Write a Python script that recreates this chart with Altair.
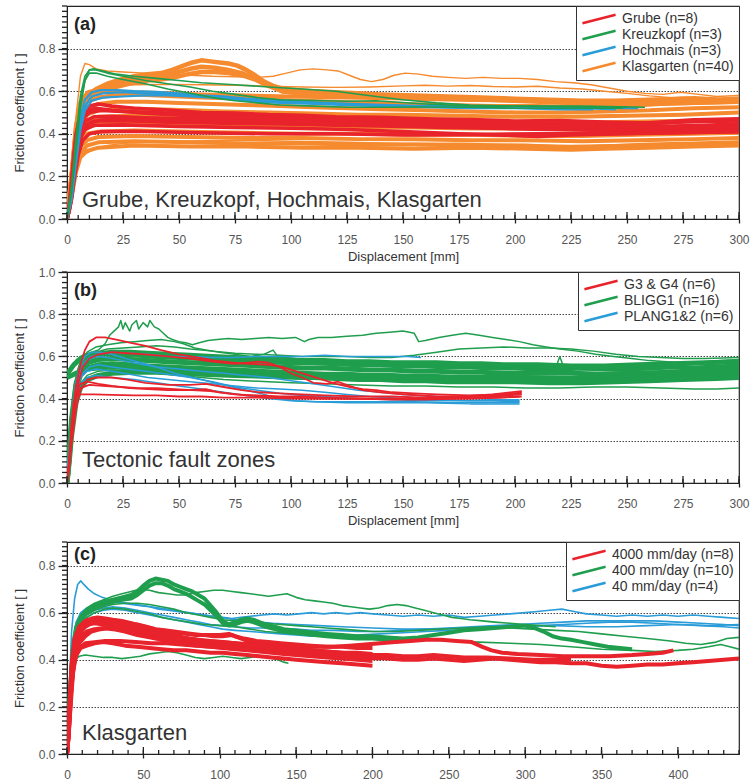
import altair as alt
import pandas as pd

# ---------------------------------------------------------------------------
# (a) Grube / Kreuzkopf / Hochmais / Klasgarten  -- displacement [mm], friction [-]
# ---------------------------------------------------------------------------
A_GRUBE = [
    [(0, 0), (1, 0.06), (2, 0.16), (3, 0.28), (4, 0.38), (5, 0.45), (7, 0.50), (10, 0.53), (14, 0.54), (20, 0.53),
     (30, 0.52), (45, 0.512), (60, 0.50), (75, 0.497), (90, 0.49), (105, 0.487), (120, 0.48), (140, 0.477),
     (160, 0.47), (180, 0.467), (200, 0.46), (220, 0.462), (240, 0.455), (260, 0.45), (280, 0.457), (300, 0.46)],
    [(0, 0), (1, 0.05), (2, 0.13), (3, 0.24), (4, 0.34), (5, 0.41), (7, 0.47), (10, 0.50), (15, 0.51), (25, 0.505),
     (40, 0.50), (60, 0.49), (80, 0.482), (100, 0.475), (125, 0.47), (150, 0.466), (175, 0.455), (200, 0.452),
     (225, 0.445), (250, 0.44), (270, 0.436), (285, 0.44), (300, 0.447)],
    [(0, 0), (1, 0.04), (2, 0.11), (3, 0.21), (4, 0.31), (6, 0.41), (8, 0.46), (12, 0.48), (20, 0.482), (35, 0.475),
     (55, 0.47), (75, 0.466), (100, 0.46), (125, 0.456), (150, 0.45), (175, 0.442), (200, 0.436), (225, 0.43),
     (250, 0.426), (275, 0.42), (300, 0.425)],
    [(0, 0), (1, 0.05), (2, 0.12), (3, 0.22), (4, 0.32), (6, 0.40), (8, 0.44), (12, 0.46), (25, 0.462), (45, 0.455),
     (70, 0.45), (95, 0.446), (120, 0.44), (145, 0.436), (170, 0.43), (195, 0.425), (215, 0.42), (240, 0.416),
     (260, 0.41), (280, 0.415), (300, 0.42)],
    [(0, 0), (1, 0.04), (2, 0.10), (4, 0.28), (6, 0.38), (8, 0.42), (12, 0.44), (25, 0.442), (50, 0.435), (75, 0.43),
     (100, 0.426), (125, 0.42), (150, 0.41), (175, 0.40), (195, 0.394), (210, 0.388), (225, 0.395), (250, 0.40),
     (275, 0.405), (300, 0.41)],
    [(0, 0), (1, 0.07), (2, 0.18), (3, 0.30), (4, 0.40), (6, 0.47), (9, 0.51), (13, 0.52), (20, 0.51), (35, 0.497),
     (55, 0.485), (80, 0.476), (110, 0.47), (140, 0.465), (170, 0.46), (200, 0.456), (230, 0.45), (250, 0.445),
     (265, 0.455), (280, 0.466), (300, 0.47)],
    [(0, 0), (1, 0.05), (2, 0.12), (3, 0.22), (5, 0.36), (7, 0.42), (10, 0.45), (15, 0.465), (30, 0.47), (60, 0.466),
     (90, 0.455), (120, 0.45), (150, 0.446), (180, 0.44), (210, 0.44), (240, 0.435), (270, 0.43), (300, 0.436)],
    [(0, 0), (1, 0.04), (2, 0.09), (3, 0.17), (5, 0.30), (7, 0.37), (10, 0.40), (15, 0.41), (30, 0.412), (60, 0.405),
     (90, 0.40), (120, 0.40), (150, 0.395), (180, 0.396), (210, 0.40), (240, 0.40), (270, 0.405), (300, 0.41)],
]

A_KREUZKOPF = [
    [(0, 0), (2, 0.12), (4, 0.32), (6, 0.52), (8, 0.65), (10, 0.70), (12, 0.705), (16, 0.695), (22, 0.68), (30, 0.67),
     (40, 0.66), (50, 0.65), (60, 0.64), (75, 0.63), (90, 0.62), (105, 0.61), (120, 0.60), (138, 0.575), (150, 0.56),
     (165, 0.545), (180, 0.535), (200, 0.53), (230, 0.53), (258, 0.525)],
    [(0, 0), (2, 0.15), (4, 0.38), (6, 0.58), (8, 0.67), (10, 0.70), (13, 0.70), (18, 0.685), (25, 0.67), (35, 0.65),
     (45, 0.635), (55, 0.62), (65, 0.60), (75, 0.585), (85, 0.57), (95, 0.56), (110, 0.556), (125, 0.553),
     (138, 0.555), (160, 0.54), (180, 0.53), (200, 0.53), (225, 0.527), (250, 0.525)],
    [(0, 0), (2, 0.14), (4, 0.35), (6, 0.55), (8, 0.65), (10, 0.685), (13, 0.685), (18, 0.67), (25, 0.655), (35, 0.635),
     (45, 0.61), (55, 0.59), (65, 0.57), (75, 0.555), (85, 0.545), (95, 0.535), (110, 0.53), (125, 0.525),
     (140, 0.525), (160, 0.526), (180, 0.525), (200, 0.52), (225, 0.52), (248, 0.52)],
]

A_HOCHMAIS = [
    [(0, 0), (2, 0.12), (4, 0.32), (6, 0.48), (8, 0.56), (11, 0.595), (15, 0.605), (22, 0.605), (30, 0.60), (40, 0.597),
     (50, 0.59), (60, 0.58), (70, 0.576), (80, 0.565), (90, 0.56), (100, 0.555), (115, 0.545), (130, 0.54),
     (145, 0.535), (160, 0.53), (180, 0.53), (200, 0.525), (220, 0.525), (240, 0.52), (255, 0.52)],
    [(0, 0), (2, 0.10), (4, 0.28), (6, 0.44), (8, 0.53), (11, 0.575), (16, 0.59), (25, 0.595), (35, 0.59), (45, 0.586),
     (55, 0.58), (65, 0.575), (75, 0.566), (85, 0.555), (95, 0.55), (105, 0.546), (120, 0.54), (135, 0.535),
     (150, 0.53), (170, 0.525), (190, 0.526), (210, 0.52), (230, 0.52), (245, 0.515)],
    [(0, 0), (2, 0.09), (4, 0.26), (6, 0.42), (8, 0.51), (11, 0.555), (16, 0.57), (25, 0.575), (35, 0.58), (45, 0.58),
     (55, 0.575), (65, 0.57), (75, 0.56), (85, 0.55), (95, 0.545), (110, 0.54), (125, 0.535), (140, 0.53),
     (160, 0.525), (180, 0.52), (200, 0.52), (220, 0.515), (235, 0.515)],
]

A_KLASGARTEN_THIN = [
    [(0, 0), (2, 0.22), (4, 0.48), (6, 0.67), (8, 0.73), (10, 0.725), (13, 0.705), (18, 0.695), (25, 0.69),
     (35, 0.685), (45, 0.68), (55, 0.675), (65, 0.67), (75, 0.668), (85, 0.665), (92, 0.67), (98, 0.685),
     (104, 0.70), (110, 0.705), (116, 0.70), (121, 0.695), (126, 0.675), (131, 0.655), (136, 0.645), (141, 0.655),
     (146, 0.675), (151, 0.685), (157, 0.68), (163, 0.67), (170, 0.665), (178, 0.66), (186, 0.665), (194, 0.66),
     (202, 0.66), (210, 0.655), (218, 0.645), (226, 0.64), (234, 0.63), (242, 0.615), (250, 0.60), (258, 0.59),
     (266, 0.585), (274, 0.595), (282, 0.585), (290, 0.575), (300, 0.58)],
    [(0, 0), (2, 0.2), (4, 0.42), (6, 0.55), (9, 0.60), (14, 0.615), (20, 0.625), (30, 0.63), (45, 0.632),
     (60, 0.63), (75, 0.628), (90, 0.624), (105, 0.62), (120, 0.618), (135, 0.62), (150, 0.625), (160, 0.628),
     (170, 0.624), (180, 0.627), (190, 0.622), (200, 0.62), (210, 0.623), (220, 0.615), (230, 0.61), (240, 0.60),
     (250, 0.59), (260, 0.578), (270, 0.57), (280, 0.574), (290, 0.568), (300, 0.565)],
    [(0, 0), (2, 0.15), (4, 0.26), (6, 0.29), (9, 0.31), (13, 0.33), (18, 0.345), (25, 0.355), (35, 0.36),
     (50, 0.365), (75, 0.37), (100, 0.365), (125, 0.36), (150, 0.355), (175, 0.356), (200, 0.35), (225, 0.345),
     (250, 0.35), (275, 0.355), (300, 0.36)],
]

A_KLASGARTEN_HUMP = [
    [(0, 0), (2, 0.2), (4, 0.42), (6, 0.53), (9, 0.58), (13, 0.61), (18, 0.635), (24, 0.655), (30, 0.67),
     (36, 0.68), (42, 0.685), (47, 0.70), (52, 0.72), (56, 0.735), (60, 0.745), (64, 0.74), (68, 0.735),
     (72, 0.73), (76, 0.72), (80, 0.70), (84, 0.675), (88, 0.645), (92, 0.625), (97, 0.61), (103, 0.605),
     (110, 0.60), (120, 0.595), (130, 0.59), (140, 0.585), (155, 0.58), (170, 0.575), (185, 0.57), (200, 0.565),
     (215, 0.56), (230, 0.555), (245, 0.555), (260, 0.56), (275, 0.565), (290, 0.56), (300, 0.565)],
    [(0, 0), (2, 0.18), (4, 0.40), (6, 0.52), (9, 0.57), (13, 0.60), (18, 0.62), (24, 0.64), (30, 0.655),
     (38, 0.665), (45, 0.675), (50, 0.69), (55, 0.705), (60, 0.715), (66, 0.71), (72, 0.70), (78, 0.685),
     (84, 0.66), (90, 0.63), (96, 0.60), (104, 0.59), (115, 0.585), (130, 0.58), (150, 0.575), (175, 0.57),
     (200, 0.56), (225, 0.55), (250, 0.545), (275, 0.55), (300, 0.555)],
    [(0, 0), (2, 0.19), (4, 0.41), (6, 0.52), (9, 0.565), (13, 0.59), (18, 0.61), (24, 0.625), (30, 0.64),
     (36, 0.65), (42, 0.655), (48, 0.665), (54, 0.68), (60, 0.69), (66, 0.69), (72, 0.685), (78, 0.675),
     (84, 0.655), (90, 0.625), (96, 0.60), (104, 0.59), (115, 0.58), (130, 0.575), (150, 0.57), (175, 0.565),
     (200, 0.555), (225, 0.545), (250, 0.54), (275, 0.545), (300, 0.55)],
]

A_KLASGARTEN_BAND = [
    [(0, 0), (2, 0.2), (4, 0.44), (6, 0.55), (9, 0.59), (14, 0.60), (20, 0.60), (30, 0.595), (45, 0.59),
     (60, 0.585), (80, 0.58), (100, 0.575), (125, 0.57), (150, 0.566), (175, 0.56), (200, 0.556), (225, 0.55),
     (250, 0.548), (275, 0.555), (300, 0.56)],
    [(0, 0), (2, 0.2), (4, 0.40), (6, 0.50), (9, 0.55), (14, 0.57), (20, 0.58), (30, 0.585), (40, 0.58),
     (50, 0.575), (60, 0.57), (75, 0.566), (90, 0.56), (105, 0.555), (120, 0.55), (135, 0.545), (150, 0.54),
     (170, 0.535), (190, 0.53), (210, 0.53), (230, 0.525), (250, 0.53), (265, 0.54), (280, 0.545), (300, 0.55)],
    [(0, 0), (2, 0.18), (4, 0.37), (6, 0.47), (9, 0.52), (14, 0.54), (22, 0.55), (35, 0.55), (50, 0.545),
     (65, 0.54), (80, 0.535), (95, 0.53), (110, 0.525), (125, 0.52), (140, 0.515), (160, 0.51), (180, 0.505),
     (200, 0.50), (220, 0.50), (240, 0.505), (260, 0.51), (280, 0.52), (300, 0.525)],
    [(0, 0), (2, 0.16), (4, 0.34), (6, 0.44), (9, 0.49), (14, 0.51), (25, 0.52), (40, 0.515), (55, 0.51),
     (70, 0.505), (90, 0.50), (110, 0.495), (130, 0.49), (150, 0.49), (175, 0.485), (200, 0.48), (225, 0.48),
     (250, 0.485), (275, 0.49), (300, 0.50)],
    [(0, 0), (2, 0.15), (4, 0.32), (6, 0.42), (9, 0.46), (14, 0.48), (30, 0.485), (50, 0.48), (70, 0.475),
     (95, 0.47), (120, 0.465), (145, 0.46), (170, 0.455), (195, 0.455), (220, 0.45), (245, 0.455), (270, 0.46),
     (300, 0.465)],
    [(0, 0), (2, 0.14), (4, 0.30), (6, 0.39), (9, 0.43), (14, 0.445), (30, 0.45), (55, 0.445), (80, 0.44),
     (105, 0.435), (130, 0.43), (155, 0.43), (180, 0.425), (205, 0.425), (230, 0.42), (255, 0.425), (280, 0.43),
     (300, 0.435)],
    [(0, 0), (2, 0.13), (4, 0.28), (6, 0.36), (9, 0.40), (14, 0.41), (30, 0.415), (55, 0.41), (80, 0.405),
     (105, 0.40), (130, 0.40), (155, 0.395), (180, 0.395), (205, 0.39), (230, 0.39), (255, 0.395), (280, 0.40),
     (300, 0.405)],
    [(0, 0), (2, 0.12), (4, 0.26), (6, 0.34), (9, 0.37), (14, 0.385), (30, 0.39), (55, 0.385), (80, 0.38),
     (105, 0.38), (130, 0.375), (155, 0.375), (180, 0.37), (205, 0.37), (230, 0.365), (255, 0.37), (280, 0.375),
     (300, 0.38)],
    [(0, 0), (2, 0.11), (4, 0.24), (6, 0.31), (9, 0.345), (14, 0.36), (30, 0.365), (55, 0.36), (80, 0.355),
     (105, 0.355), (130, 0.35), (155, 0.35), (180, 0.345), (205, 0.345), (225, 0.335), (240, 0.34), (260, 0.35),
     (280, 0.355), (300, 0.36)],
    [(0, 0), (2, 0.10), (4, 0.22), (6, 0.29), (9, 0.32), (14, 0.335), (30, 0.345), (55, 0.34), (80, 0.34),
     (105, 0.335), (130, 0.335), (155, 0.33), (180, 0.335), (205, 0.33), (225, 0.325), (240, 0.33), (260, 0.335),
     (280, 0.34), (300, 0.345)],
]

# ---------------------------------------------------------------------------
# (b) Tectonic fault zones
# ---------------------------------------------------------------------------
B_G3G4 = [
    [(0, 0), (1, 0.1), (2, 0.25), (3, 0.38), (4, 0.46), (6, 0.56), (8, 0.63), (10, 0.67), (13, 0.69), (17, 0.69),
     (22, 0.68), (28, 0.665), (35, 0.65), (42, 0.63), (50, 0.61), (58, 0.595), (66, 0.58), (74, 0.57), (82, 0.565),
     (90, 0.56), (96, 0.55), (102, 0.53), (108, 0.51), (114, 0.49), (120, 0.47), (126, 0.455), (132, 0.445),
     (138, 0.44), (145, 0.43), (155, 0.425), (165, 0.42), (180, 0.415), (195, 0.42), (203, 0.43)],
    [(0, 0), (1, 0.08), (2, 0.2), (3, 0.32), (5, 0.47), (7, 0.55), (10, 0.59), (14, 0.61), (20, 0.62), (27, 0.615),
     (35, 0.61), (45, 0.60), (55, 0.59), (65, 0.575), (75, 0.565), (85, 0.575), (90, 0.57), (95, 0.55), (100, 0.52),
     (105, 0.50), (110, 0.475), (116, 0.47), (121, 0.48), (126, 0.46), (132, 0.44), (140, 0.43), (150, 0.42),
     (165, 0.41), (180, 0.41), (195, 0.415), (203, 0.425)],
    [(0, 0), (1, 0.1), (2, 0.24), (3, 0.36), (4, 0.43), (6, 0.47), (9, 0.48), (14, 0.47), (20, 0.46), (28, 0.45),
     (36, 0.445), (45, 0.44), (55, 0.44), (62, 0.445), (68, 0.43), (75, 0.42), (85, 0.415), (95, 0.41), (105, 0.41),
     (115, 0.405), (130, 0.40), (145, 0.40), (160, 0.40), (175, 0.405), (190, 0.41), (203, 0.42)],
    [(0, 0), (1, 0.09), (2, 0.22), (3, 0.34), (4, 0.41), (6, 0.45), (10, 0.465), (16, 0.46), (24, 0.455), (32, 0.45),
     (40, 0.45), (48, 0.445), (56, 0.44), (64, 0.435), (72, 0.425), (80, 0.415), (90, 0.41), (100, 0.405),
     (115, 0.40), (130, 0.40), (145, 0.395), (160, 0.395), (175, 0.40), (190, 0.405), (203, 0.41)],
    [(0, 0), (1, 0.12), (2, 0.28), (3, 0.38), (4, 0.41), (6, 0.42), (12, 0.42), (20, 0.418), (30, 0.415),
     (40, 0.415), (50, 0.41), (60, 0.41), (70, 0.405), (85, 0.405), (100, 0.40), (120, 0.40), (140, 0.398),
     (160, 0.40), (180, 0.40), (195, 0.405), (202, 0.41)],
    [(0, 0), (1, 0.07), (2, 0.18), (4, 0.35), (6, 0.44), (9, 0.49), (13, 0.50), (20, 0.50), (27, 0.49), (35, 0.475),
     (45, 0.465), (55, 0.465), (62, 0.47), (70, 0.455), (78, 0.44), (86, 0.43), (95, 0.425), (105, 0.42),
     (115, 0.415), (130, 0.41), (145, 0.41), (160, 0.405), (175, 0.41), (190, 0.42), (203, 0.435)],
]

B_PLANG = [
    [(0, 0.06), (1, 0.15), (2, 0.28), (3, 0.40), (4, 0.48), (6, 0.56), (8, 0.60), (11, 0.62), (15, 0.62), (20, 0.61),
     (26, 0.59), (33, 0.57), (40, 0.55), (48, 0.52), (56, 0.50), (64, 0.48), (72, 0.46), (80, 0.44), (88, 0.42),
     (95, 0.40), (102, 0.39), (112, 0.385), (125, 0.385), (140, 0.385), (155, 0.385), (170, 0.38), (185, 0.38),
     (202, 0.38)],
    [(0, 0), (1, 0.12), (2, 0.26), (3, 0.38), (5, 0.50), (7, 0.56), (10, 0.595), (14, 0.61), (20, 0.62),
     (28, 0.615), (36, 0.61), (45, 0.60), (55, 0.60), (65, 0.595), (75, 0.595), (85, 0.60), (95, 0.60),
     (105, 0.60), (115, 0.605), (125, 0.60), (135, 0.60), (145, 0.60), (152, 0.60), (158, 0.595)],
    [(0, 0.04), (1, 0.12), (2, 0.25), (3, 0.36), (5, 0.47), (7, 0.52), (10, 0.55), (14, 0.56), (20, 0.55),
     (27, 0.54), (35, 0.53), (45, 0.515), (55, 0.50), (65, 0.48), (75, 0.455), (85, 0.44), (95, 0.425),
     (105, 0.415), (115, 0.41), (130, 0.40), (145, 0.395), (160, 0.39), (175, 0.39), (190, 0.39), (202, 0.385)],
    [(0, 0), (1, 0.1), (2, 0.23), (4, 0.42), (6, 0.50), (9, 0.53), (13, 0.54), (20, 0.53), (28, 0.515), (36, 0.50),
     (45, 0.49), (55, 0.48), (65, 0.47), (75, 0.46), (85, 0.45), (95, 0.445), (105, 0.44), (115, 0.43),
     (125, 0.42), (135, 0.41), (150, 0.40), (165, 0.395), (180, 0.39), (195, 0.39), (202, 0.39)],
    [(0, 0), (1, 0.09), (2, 0.22), (4, 0.40), (6, 0.47), (9, 0.50), (13, 0.51), (20, 0.50), (30, 0.49),
     (40, 0.475), (50, 0.46), (60, 0.445), (70, 0.43), (80, 0.415), (90, 0.40), (100, 0.39), (110, 0.385),
     (125, 0.38), (140, 0.38), (160, 0.38), (180, 0.375), (202, 0.375)],
    [(0, 0), (1, 0.1), (2, 0.24), (4, 0.44), (6, 0.53), (9, 0.58), (13, 0.60), (18, 0.595), (25, 0.58),
     (32, 0.565), (40, 0.55), (50, 0.54), (60, 0.53), (70, 0.52), (80, 0.51), (90, 0.50), (100, 0.485),
     (110, 0.47), (120, 0.455), (130, 0.44), (140, 0.43), (150, 0.42), (165, 0.41), (180, 0.40), (195, 0.395),
     (202, 0.395)],
]

B_BLIGG1_THIN = [
    [(0, 0.50), (1, 0.52), (2, 0.55), (4, 0.58), (6, 0.60), (8, 0.61), (11, 0.62), (14, 0.63), (17, 0.66),
     (19, 0.70), (21, 0.72), (23, 0.74), (24, 0.77), (25, 0.73), (26, 0.76), (28, 0.72), (29, 0.75), (31, 0.77),
     (32, 0.73), (34, 0.76), (36, 0.74), (37, 0.77), (39, 0.74), (41, 0.73), (43, 0.71), (45, 0.69), (47, 0.68),
     (50, 0.67), (53, 0.665), (56, 0.655), (59, 0.665), (63, 0.675), (67, 0.68), (72, 0.685), (78, 0.68),
     (84, 0.685), (90, 0.69), (96, 0.685), (102, 0.69), (106, 0.67), (108, 0.68), (112, 0.69), (118, 0.69),
     (125, 0.695), (132, 0.70), (138, 0.71), (144, 0.715), (150, 0.72), (155, 0.71), (157, 0.67), (160, 0.675),
     (166, 0.69), (172, 0.70), (178, 0.71), (184, 0.70), (190, 0.69), (196, 0.68), (202, 0.67), (208, 0.655),
     (214, 0.645), (220, 0.635), (228, 0.625), (236, 0.61), (244, 0.60), (252, 0.59), (260, 0.58), (268, 0.575),
     (276, 0.57), (284, 0.575), (292, 0.58), (300, 0.585)],
    [(0, 0), (1, 0.12), (2, 0.28), (4, 0.48), (6, 0.56), (9, 0.60), (13, 0.62), (18, 0.635), (25, 0.64),
     (32, 0.645), (40, 0.65), (48, 0.645), (55, 0.635), (65, 0.625), (75, 0.615), (85, 0.61), (95, 0.605),
     (105, 0.60), (115, 0.60), (125, 0.60), (135, 0.595), (145, 0.595), (155, 0.605), (165, 0.62), (175, 0.635),
     (185, 0.64), (195, 0.645), (205, 0.64), (215, 0.64), (225, 0.635), (235, 0.625), (245, 0.61), (255, 0.60),
     (265, 0.595), (275, 0.59), (285, 0.59), (300, 0.595)],
    [(0, 0), (1, 0.14), (2, 0.30), (4, 0.50), (6, 0.58), (9, 0.62), (13, 0.645), (18, 0.655), (24, 0.665),
     (30, 0.67), (36, 0.675), (42, 0.68), (48, 0.67), (52, 0.66), (57, 0.64), (62, 0.63), (68, 0.62), (75, 0.61),
     (82, 0.60), (88, 0.61), (92, 0.63), (94, 0.60), (98, 0.595), (105, 0.585), (115, 0.575), (125, 0.57),
     (135, 0.565), (145, 0.56), (155, 0.555), (165, 0.555), (175, 0.55), (190, 0.545), (205, 0.54), (218, 0.54),
     (220, 0.60), (222, 0.54), (235, 0.535), (250, 0.53), (265, 0.53), (280, 0.535), (300, 0.54)],
    [(0, 0), (1, 0.1), (2, 0.24), (4, 0.40), (6, 0.47), (9, 0.51), (14, 0.53), (20, 0.535), (30, 0.53), (40, 0.52),
     (50, 0.51), (60, 0.50), (70, 0.49), (80, 0.485), (90, 0.48), (100, 0.475), (115, 0.47), (130, 0.465),
     (145, 0.46), (160, 0.46), (175, 0.455), (190, 0.455), (205, 0.45), (220, 0.45), (235, 0.455), (250, 0.455),
     (265, 0.45), (280, 0.445), (290, 0.445), (300, 0.45)],
]

B_BLIGG1_BAND = [
    [(0, 0.52), (1, 0.53), (3, 0.56), (5, 0.58), (8, 0.60), (12, 0.61), (18, 0.615), (25, 0.61), (32, 0.605),
     (40, 0.60), (50, 0.595), (60, 0.59), (70, 0.585), (80, 0.58), (90, 0.575), (100, 0.57), (110, 0.57),
     (120, 0.565), (130, 0.56), (140, 0.56), (150, 0.555), (160, 0.555), (170, 0.55), (180, 0.55), (190, 0.545),
     (200, 0.545), (210, 0.54), (220, 0.54), (230, 0.545), (240, 0.54), (250, 0.54), (260, 0.545), (270, 0.55),
     (280, 0.545), (290, 0.55), (300, 0.555)],
    [(0, 0), (1, 0.14), (2, 0.3), (4, 0.47), (6, 0.54), (9, 0.57), (14, 0.585), (20, 0.59), (28, 0.585),
     (36, 0.58), (45, 0.575), (55, 0.57), (65, 0.565), (75, 0.56), (85, 0.555), (95, 0.55), (105, 0.545),
     (115, 0.545), (125, 0.54), (135, 0.535), (145, 0.535), (155, 0.53), (165, 0.53), (175, 0.525), (185, 0.525),
     (195, 0.52), (210, 0.52), (225, 0.52), (240, 0.515), (255, 0.52), (270, 0.525), (285, 0.53), (300, 0.535)],
    [(0, 0), (1, 0.12), (2, 0.26), (4, 0.44), (6, 0.51), (9, 0.545), (14, 0.56), (20, 0.565), (28, 0.56),
     (36, 0.555), (45, 0.55), (55, 0.545), (65, 0.54), (75, 0.535), (85, 0.53), (95, 0.525), (105, 0.52),
     (115, 0.515), (125, 0.515), (135, 0.51), (145, 0.51), (155, 0.505), (165, 0.505), (175, 0.50), (190, 0.50),
     (205, 0.50), (220, 0.495), (235, 0.495), (250, 0.50), (265, 0.505), (280, 0.51), (300, 0.515)],
    [(0, 0.50), (2, 0.51), (4, 0.52), (6, 0.53), (9, 0.54), (14, 0.545), (20, 0.55), (30, 0.545), (40, 0.54),
     (50, 0.535), (60, 0.525), (70, 0.52), (80, 0.515), (90, 0.51), (100, 0.505), (110, 0.50), (120, 0.495),
     (130, 0.49), (140, 0.49), (150, 0.485), (160, 0.485), (170, 0.48), (185, 0.48), (200, 0.48), (215, 0.475),
     (230, 0.475), (245, 0.48), (260, 0.485), (275, 0.49), (290, 0.495), (300, 0.50)],
    [(0, 0), (1, 0.13), (2, 0.28), (4, 0.46), (6, 0.55), (9, 0.59), (14, 0.61), (20, 0.62), (28, 0.62),
     (36, 0.615), (45, 0.61), (55, 0.605), (65, 0.60), (75, 0.595), (85, 0.59), (95, 0.585), (105, 0.58),
     (115, 0.58), (125, 0.575), (135, 0.575), (145, 0.57), (155, 0.57), (165, 0.57), (175, 0.565), (185, 0.565),
     (195, 0.56), (210, 0.56), (225, 0.555), (240, 0.555), (255, 0.56), (270, 0.565), (285, 0.57), (300, 0.575)],
    [(0, 0), (1, 0.1), (2, 0.22), (4, 0.38), (6, 0.45), (9, 0.49), (14, 0.51), (20, 0.52), (30, 0.525),
     (40, 0.525), (50, 0.52), (60, 0.515), (75, 0.51), (90, 0.505), (105, 0.50), (120, 0.50), (135, 0.50),
     (150, 0.50), (165, 0.495), (180, 0.495), (195, 0.49), (210, 0.49), (225, 0.485), (240, 0.485), (255, 0.49),
     (270, 0.495), (285, 0.50), (300, 0.505)],
]

# ---------------------------------------------------------------------------
# (c) Klasgarten at three shear rates, displacement up to ~440 mm
# ---------------------------------------------------------------------------
C_4000 = [
    [(0, 0), (1, 0.1), (2, 0.24), (3, 0.36), (5, 0.48), (8, 0.54), (12, 0.565), (16, 0.575), (20, 0.58),
     (25, 0.575), (30, 0.57), (36, 0.565), (42, 0.555), (48, 0.545), (54, 0.535), (60, 0.525), (66, 0.52),
     (72, 0.515), (78, 0.51), (84, 0.505), (90, 0.505), (96, 0.50), (102, 0.50), (108, 0.505), (112, 0.495),
     (118, 0.48), (126, 0.47), (135, 0.465), (145, 0.46), (155, 0.455), (165, 0.455), (175, 0.455), (185, 0.46),
     (195, 0.465), (205, 0.47), (215, 0.475), (225, 0.48), (235, 0.485), (245, 0.485), (255, 0.48), (265, 0.475),
     (272, 0.455), (278, 0.44), (285, 0.43), (295, 0.425), (310, 0.42), (325, 0.415), (340, 0.415),
     (355, 0.415), (370, 0.42), (380, 0.425), (390, 0.43), (397, 0.44)],
    [(0, 0), (1, 0.08), (2, 0.2), (3, 0.31), (5, 0.42), (8, 0.47), (12, 0.50), (16, 0.52), (22, 0.53),
     (28, 0.535), (34, 0.53), (40, 0.52), (48, 0.51), (56, 0.50), (64, 0.49), (72, 0.48), (80, 0.475), (90, 0.47),
     (100, 0.465), (110, 0.46), (120, 0.45), (130, 0.445), (140, 0.44), (150, 0.435), (160, 0.43), (170, 0.425),
     (180, 0.42), (190, 0.415), (200, 0.41), (210, 0.405), (220, 0.40), (230, 0.40), (240, 0.405), (250, 0.40),
     (260, 0.395), (270, 0.40), (280, 0.405), (290, 0.40), (300, 0.395), (310, 0.39), (320, 0.39), (330, 0.385),
     (340, 0.385), (350, 0.375), (360, 0.37), (370, 0.375), (380, 0.38), (390, 0.38), (400, 0.385), (410, 0.39),
     (420, 0.395), (430, 0.40), (440, 0.405)],
    [(0, 0), (1, 0.09), (2, 0.22), (3, 0.33), (5, 0.45), (8, 0.51), (12, 0.54), (16, 0.555), (22, 0.56),
     (28, 0.56), (34, 0.555), (40, 0.545), (48, 0.535), (56, 0.52), (64, 0.51), (72, 0.50), (80, 0.49), (90, 0.48),
     (100, 0.475), (110, 0.47), (120, 0.465), (130, 0.455), (140, 0.45), (150, 0.445), (160, 0.44), (170, 0.435),
     (180, 0.43), (190, 0.425), (200, 0.42), (210, 0.42), (220, 0.415), (230, 0.415), (240, 0.42), (250, 0.415),
     (260, 0.41), (275, 0.41), (290, 0.405), (305, 0.40), (320, 0.40), (330, 0.40)],
    [(0, 0), (1, 0.07), (2, 0.18), (3, 0.29), (5, 0.40), (8, 0.45), (12, 0.47), (18, 0.475), (25, 0.48),
     (35, 0.48), (45, 0.475), (55, 0.47), (65, 0.47), (75, 0.465), (85, 0.46), (95, 0.455), (105, 0.45),
     (115, 0.445), (125, 0.44), (135, 0.44), (145, 0.435), (155, 0.43), (165, 0.425), (175, 0.42), (185, 0.415),
     (195, 0.41), (205, 0.405)],
    [(0, 0), (1, 0.1), (2, 0.25), (3, 0.38), (5, 0.49), (8, 0.54), (12, 0.56), (16, 0.57), (22, 0.57),
     (28, 0.565), (34, 0.56), (40, 0.555), (46, 0.55), (52, 0.54), (58, 0.53), (64, 0.525), (70, 0.52),
     (76, 0.515), (82, 0.51), (88, 0.505), (94, 0.505), (100, 0.505), (106, 0.51), (110, 0.50), (116, 0.49),
     (124, 0.48), (132, 0.475), (140, 0.47), (150, 0.465), (160, 0.46), (170, 0.455), (180, 0.455), (190, 0.45),
     (200, 0.45)],
    [(0, 0), (1, 0.08), (2, 0.2), (4, 0.38), (6, 0.46), (9, 0.50), (13, 0.52), (18, 0.53), (24, 0.535),
     (30, 0.53), (38, 0.52), (46, 0.505), (54, 0.495), (62, 0.485), (70, 0.475), (78, 0.465), (86, 0.46),
     (94, 0.455), (102, 0.45), (110, 0.445), (118, 0.44), (126, 0.435), (134, 0.43), (142, 0.425), (150, 0.42),
     (160, 0.415), (170, 0.41), (180, 0.405), (190, 0.40), (200, 0.395)],
    [(0, 0), (1, 0.09), (2, 0.22), (4, 0.42), (6, 0.50), (9, 0.535), (13, 0.55), (18, 0.555), (24, 0.55),
     (30, 0.545), (38, 0.535), (46, 0.525), (54, 0.515), (62, 0.505), (70, 0.495), (78, 0.49), (86, 0.485),
     (94, 0.48), (102, 0.475), (110, 0.47), (118, 0.465), (126, 0.46), (134, 0.455), (142, 0.45), (150, 0.445),
     (160, 0.44), (170, 0.435), (180, 0.43), (190, 0.43), (200, 0.425)],
    [(0, 0), (1, 0.07), (2, 0.17), (4, 0.35), (6, 0.42), (9, 0.45), (13, 0.46), (18, 0.47), (24, 0.475),
     (30, 0.47), (38, 0.46), (46, 0.455), (54, 0.45), (62, 0.445), (70, 0.44), (78, 0.44), (86, 0.435),
     (94, 0.43), (102, 0.43), (110, 0.425), (118, 0.42), (126, 0.415), (134, 0.41), (142, 0.405), (150, 0.40),
     (160, 0.395), (170, 0.39), (180, 0.385), (190, 0.38), (200, 0.375)],
]

C_400_THICK = [
    [(0, 0), (1, 0.12), (2, 0.28), (4, 0.46), (6, 0.54), (9, 0.58), (13, 0.61), (18, 0.63), (24, 0.645),
     (30, 0.655), (36, 0.665), (42, 0.675), (46, 0.69), (50, 0.715), (54, 0.735), (58, 0.745), (62, 0.74),
     (66, 0.735), (70, 0.72), (74, 0.71), (78, 0.70), (82, 0.69), (86, 0.675), (90, 0.66), (94, 0.63), (98, 0.60),
     (102, 0.565), (106, 0.55), (110, 0.56), (114, 0.57), (118, 0.575), (122, 0.57), (126, 0.56), (130, 0.55),
     (136, 0.54), (142, 0.53), (148, 0.525), (155, 0.52), (162, 0.515), (170, 0.51), (180, 0.505), (190, 0.50),
     (200, 0.50), (210, 0.495), (220, 0.49), (230, 0.495), (240, 0.505), (250, 0.515), (260, 0.525), (270, 0.53),
     (280, 0.535), (290, 0.54), (300, 0.545), (306, 0.535), (312, 0.52), (318, 0.50), (324, 0.49), (330, 0.485),
     (338, 0.475), (346, 0.465), (354, 0.455), (362, 0.45), (370, 0.445)],
    [(0, 0), (1, 0.11), (2, 0.27), (4, 0.45), (6, 0.53), (9, 0.57), (13, 0.60), (18, 0.62), (24, 0.635),
     (30, 0.645), (36, 0.655), (42, 0.66), (46, 0.675), (50, 0.695), (54, 0.715), (58, 0.725), (62, 0.725),
     (66, 0.715), (70, 0.70), (74, 0.69), (78, 0.68), (82, 0.665), (86, 0.65), (90, 0.635), (94, 0.61),
     (98, 0.585), (102, 0.555), (106, 0.545), (110, 0.55), (114, 0.56), (118, 0.565), (122, 0.56), (126, 0.55),
     (130, 0.54), (136, 0.53), (142, 0.52), (148, 0.515), (155, 0.51), (162, 0.505), (170, 0.50), (180, 0.495),
     (190, 0.49), (200, 0.49), (210, 0.485), (220, 0.48)],
]

C_400_THIN = [
    [(0, 0), (1, 0.1), (2, 0.26), (4, 0.45), (6, 0.54), (9, 0.59), (13, 0.62), (18, 0.64), (24, 0.655),
     (30, 0.67), (36, 0.68), (42, 0.69), (48, 0.70), (54, 0.695), (60, 0.685), (66, 0.68), (72, 0.675),
     (78, 0.675), (84, 0.685), (90, 0.69), (96, 0.695), (102, 0.695), (108, 0.69), (114, 0.685), (120, 0.68),
     (126, 0.675), (132, 0.67), (138, 0.675), (144, 0.68), (150, 0.665), (156, 0.655), (162, 0.65), (168, 0.645),
     (174, 0.64), (180, 0.63), (186, 0.625), (192, 0.62), (198, 0.615), (204, 0.62), (210, 0.63), (216, 0.635),
     (222, 0.63), (228, 0.62), (234, 0.61), (240, 0.60), (246, 0.59), (252, 0.58), (258, 0.575), (264, 0.57),
     (272, 0.565), (280, 0.56), (290, 0.555), (300, 0.55), (310, 0.545), (320, 0.54)],
    [(0, 0), (1, 0.12), (2, 0.26), (3, 0.36), (5, 0.40), (8, 0.415), (12, 0.42), (18, 0.415), (24, 0.41),
     (30, 0.41), (36, 0.405), (42, 0.41), (48, 0.415), (54, 0.425), (60, 0.43), (66, 0.435), (72, 0.43),
     (78, 0.42), (84, 0.41), (90, 0.405), (96, 0.41), (102, 0.415), (108, 0.41), (114, 0.405), (120, 0.41),
     (126, 0.415), (132, 0.41), (138, 0.40), (142, 0.39), (145, 0.385)],
    [(0, 0), (1, 0.1), (2, 0.25), (4, 0.44), (6, 0.52), (9, 0.56), (13, 0.59), (18, 0.61), (24, 0.625),
     (30, 0.635), (38, 0.64), (46, 0.64), (54, 0.635), (62, 0.625), (70, 0.615), (78, 0.60), (86, 0.59),
     (94, 0.58), (102, 0.57), (110, 0.565), (120, 0.56), (130, 0.555), (140, 0.55), (150, 0.545), (160, 0.54),
     (170, 0.535), (180, 0.53), (190, 0.525), (200, 0.52), (215, 0.52), (230, 0.525), (245, 0.53), (260, 0.535),
     (275, 0.54), (290, 0.535), (305, 0.53), (320, 0.525), (335, 0.52), (350, 0.51), (365, 0.50), (380, 0.49),
     (395, 0.48), (405, 0.47), (415, 0.465), (425, 0.475), (432, 0.49), (440, 0.495)],
    [(0, 0), (1, 0.1), (2, 0.24), (4, 0.42), (6, 0.50), (9, 0.55), (13, 0.58), (18, 0.60), (24, 0.615),
     (30, 0.62), (38, 0.615), (46, 0.605), (54, 0.595), (62, 0.58), (70, 0.57), (80, 0.56), (90, 0.55),
     (100, 0.545), (110, 0.54), (120, 0.53), (130, 0.52), (140, 0.515), (150, 0.51), (160, 0.505), (175, 0.50),
     (190, 0.50), (205, 0.495), (220, 0.49), (235, 0.485), (250, 0.48), (270, 0.475), (290, 0.47), (310, 0.465),
     (330, 0.455), (350, 0.445), (370, 0.44), (385, 0.435), (400, 0.44), (410, 0.445), (420, 0.455),
     (428, 0.465), (434, 0.455), (440, 0.445)],
]

C_40 = [
    [(0, 0), (1, 0.15), (2, 0.35), (3, 0.52), (5, 0.66), (7, 0.72), (9, 0.735), (11, 0.72), (14, 0.70),
     (18, 0.68), (23, 0.665), (28, 0.655), (35, 0.645), (45, 0.635), (55, 0.625), (65, 0.615), (75, 0.605),
     (85, 0.595), (95, 0.585), (105, 0.575), (115, 0.565), (125, 0.56), (135, 0.555), (150, 0.55), (165, 0.545),
     (180, 0.54), (200, 0.535), (220, 0.53), (240, 0.53), (260, 0.535), (280, 0.54), (300, 0.545), (320, 0.545),
     (340, 0.54), (360, 0.54), (380, 0.545), (400, 0.55), (420, 0.545), (440, 0.55)],
    [(0, 0), (1, 0.12), (2, 0.28), (4, 0.48), (6, 0.56), (9, 0.60), (13, 0.62), (18, 0.63), (24, 0.64),
     (30, 0.645), (36, 0.64), (42, 0.635), (48, 0.63), (54, 0.625), (60, 0.615), (66, 0.61), (72, 0.605),
     (78, 0.60), (84, 0.595), (90, 0.59), (96, 0.585), (102, 0.58), (108, 0.575), (114, 0.58), (120, 0.585),
     (128, 0.59), (136, 0.595), (144, 0.59), (152, 0.595), (160, 0.60), (168, 0.595), (176, 0.60), (184, 0.595),
     (192, 0.60), (200, 0.595), (210, 0.59), (220, 0.585), (230, 0.59), (240, 0.585), (250, 0.59), (260, 0.58),
     (270, 0.585), (280, 0.59), (290, 0.595), (300, 0.60), (308, 0.605), (316, 0.61), (324, 0.615),
     (332, 0.605), (340, 0.595), (350, 0.59), (360, 0.585), (370, 0.59), (380, 0.585), (390, 0.59),
     (400, 0.585), (410, 0.59), (420, 0.585), (430, 0.58), (440, 0.575)],
    [(0, 0), (1, 0.1), (2, 0.25), (4, 0.44), (6, 0.53), (9, 0.57), (13, 0.595), (18, 0.61), (24, 0.62),
     (30, 0.625), (38, 0.62), (46, 0.61), (54, 0.60), (62, 0.59), (70, 0.58), (78, 0.57), (86, 0.56),
     (94, 0.55), (102, 0.545), (110, 0.54), (120, 0.535), (130, 0.535), (140, 0.53), (150, 0.53), (160, 0.525),
     (175, 0.525), (190, 0.52), (205, 0.52), (220, 0.525), (235, 0.53), (250, 0.535), (265, 0.54), (280, 0.545),
     (295, 0.55), (310, 0.555), (325, 0.56), (340, 0.565), (355, 0.565), (370, 0.565), (385, 0.565),
     (400, 0.56), (415, 0.555), (430, 0.55), (440, 0.545)],
    [(0, 0), (1, 0.09), (2, 0.22), (4, 0.40), (6, 0.50), (9, 0.55), (13, 0.58), (18, 0.60), (24, 0.61),
     (30, 0.615), (38, 0.61), (46, 0.60), (54, 0.59), (62, 0.58), (70, 0.57), (78, 0.56), (86, 0.55),
     (94, 0.54), (102, 0.53), (110, 0.525), (120, 0.52), (130, 0.515), (140, 0.51), (150, 0.505), (160, 0.50),
     (175, 0.50), (190, 0.505), (205, 0.51), (220, 0.515), (235, 0.52), (250, 0.525), (265, 0.53), (280, 0.535),
     (295, 0.54), (310, 0.545), (325, 0.55), (340, 0.555), (355, 0.56), (370, 0.56), (385, 0.555), (400, 0.55),
     (415, 0.545), (430, 0.54), (440, 0.535)],
]

A_LABELS = ["Grube (n=8)", "Kreuzkopf (n=3)", "Hochmais (n=3)", "Klasgarten (n=40)"]
B_LABELS = ["G3 & G4 (n=6)", "BLIGG1 (n=16)", "PLANG1&2 (n=6)"]
C_LABELS = ["4000 mm/day (n=8)", "400 mm/day (n=10)", "40 mm/day (n=4)"]

RED, GREEN, BLUE, ORANGE = "#e8232c", "#1f9e4e", "#2a9cd8", "#f58a2e"

FONT = "Liberation Sans"
TEXT = "#333333"
AXIS_COLOR = "#222222"
W = 672


def frange(step, stop):
    """Evenly spaced tick positions from 0 to stop (inclusive)."""
    n = int(round(stop / step))
    return [round(i * step, 4) for i in range(n + 1)]


def y_axis(majors):
    return alt.Axis(
        values=majors,
        format=".1f",
        tickSize=9,
        tickWidth=1.3,
        grid=True,
        gridColor="#444444",
        gridDash=[1.5, 1.5],
        gridWidth=1,
        gridOpacity={"condition": {"test": "datum.value > 0.01 && datum.value < 0.95", "value": 1}, "value": 0},
        title="Friction coefficient [ ]",
        titleFontSize=13, titleFontWeight="normal", titleColor=TEXT, titleFont=FONT, titlePadding=12,
        labelFontSize=12, labelColor="#555555", labelFont=FONT, labelPadding=3,
        domainColor=AXIS_COLOR, tickColor=AXIS_COLOR,
    )


def x_axis(majors, title):
    kw = dict(
        values=majors,
        tickSize=4,
        tickWidth=1.3,
        grid=False,
        labelFontSize=12, labelColor="#555555", labelFont=FONT, labelPadding=11,
        labelFlush=False, domainColor=AXIS_COLOR, tickColor=AXIS_COLOR,
    )
    if title:
        kw.update(title=title, titleFontSize=13, titleFontWeight="normal", titleColor=TEXT, titleFont=FONT,
                  titlePadding=5)
    else:
        kw.update(title=None)
    return alt.Axis(**kw)


def legend():
    return alt.Legend(
        title=None, orient="top-right", offset=0, strokeColor="#333333", fillColor="white",
        padding=5, labelFontSize=14, labelColor="#333333", labelFont=FONT, labelLimit=300,
        symbolType="M-1,0.26L1,-0.26", symbolSize=1100, symbolStrokeWidth=2.5, symbolOffset=0,
        clipHeight=16, rowPadding=0, labelOffset=5, cornerRadius=0,
    )


def panel(series, labels, colors, xmax, ymax, x_minor, x_major, y_minor, y_label_top, x_title,
          height, letter, letter_y, name, name_y):
    xs = alt.Scale(domain=[0, xmax], nice=False, zero=False)
    ys = alt.Scale(domain=[0, ymax], nice=False)
    xa = x_axis(frange(x_major, xmax - xmax % x_major), x_title)
    ya = y_axis(frange(0.2, y_label_top))
    cs = alt.Scale(domain=labels, range=colors)

    layers = []
    for label, curves, width in series:
        rows = [{"x": x, "y": y, "curve": i, "series": label}
                for i, c in enumerate(curves) for x, y in c]
        layers.append(
            alt.Chart(pd.DataFrame(rows)).mark_line(strokeWidth=width, strokeJoin="round", clip=True).encode(
                x=alt.X("x:Q", scale=xs, axis=xa),
                y=alt.Y("y:Q", scale=ys, axis=ya),
                color=alt.Color("series:N", scale=cs, legend=legend()),
                detail="curve:N",
            )
        )

    # minor ticks: short marks left of the y axis and just inside the bottom edge
    y_minor_ticks = alt.Chart(pd.DataFrame({"ty": frange(y_minor, ymax)})).mark_tick(
        orient="horizontal", size=5, thickness=1.3, color=AXIS_COLOR, opacity=1
    ).encode(y=alt.Y("ty:Q", scale=ys, axis=ya), x=alt.value(-2.5))
    x_minor_ticks = alt.Chart(pd.DataFrame({"tx": frange(x_minor, xmax - xmax % x_minor)})).mark_tick(
        orient="vertical", size=4, thickness=1.3, color=AXIS_COLOR, opacity=1
    ).encode(x=alt.X("tx:Q", scale=xs, axis=xa), y=alt.value(height - 2))
    x_major_ticks = alt.Chart(pd.DataFrame({"tx": frange(x_major, xmax - xmax % x_major)})).mark_tick(
        orient="vertical", size=7, thickness=1.3, color=AXIS_COLOR, opacity=1
    ).encode(x=alt.X("tx:Q", scale=xs, axis=xa), y=alt.value(height - 3.5))

    tag = alt.Chart(pd.DataFrame({"t": [letter]})).mark_text(
        align="left", baseline="middle", fontSize=18, fontWeight="bold", font=FONT, color="#222222"
    ).encode(x=alt.value(7), y=alt.value(letter_y), text="t:N")
    caption = alt.Chart(pd.DataFrame({"t": [name]})).mark_text(
        align="left", baseline="alphabetic", fontSize=22, font=FONT, color=TEXT
    ).encode(x=alt.value(15), y=alt.value(name_y), text="t:N")
    return alt.layer(*layers, y_minor_ticks, x_minor_ticks, x_major_ticks, tag, caption).properties(
        width=W, height=height
    )


panel_a = panel(
    [
        (A_LABELS[3], A_KLASGARTEN_BAND, 4.0),
        (A_LABELS[3], A_KLASGARTEN_HUMP, 4.5),
        (A_LABELS[3], A_KLASGARTEN_THIN, 1.4),
        (A_LABELS[0], A_GRUBE, 3.6),
        (A_LABELS[2], A_HOCHMAIS, 2.2),
        (A_LABELS[1], A_KREUZKOPF, 1.6),
    ],
    A_LABELS, [RED, GREEN, BLUE, ORANGE], 300, 1.0, 5, 25, 0.025, 0.8, "Displacement [mm]",
    213, "(a)", 19, "Grube, Kreuzkopf, Hochmais, Klasgarten", 201,
)

panel_b = panel(
    [
        (B_LABELS[1], B_BLIGG1_BAND, 5.0),
        (B_LABELS[1], B_BLIGG1_THIN, 1.5),
        (B_LABELS[2], B_PLANG, 1.5),
        (B_LABELS[0], B_G3G4, 1.8),
    ],
    B_LABELS, [RED, GREEN, BLUE], 300, 1.0, 5, 25, 0.025, 1.0, "Displacement [mm]",
    211, "(b)", 19, "Tectonic fault zones", 195,
)

panel_c = panel(
    [
        (C_LABELS[2], C_40, 1.6),
        (C_LABELS[1], C_400_THIN, 1.6),
        (C_LABELS[1], C_400_THICK, 4.0),
        (C_LABELS[0], C_4000, 4.0),
    ],
    C_LABELS, [RED, GREEN, BLUE], 440, 0.9, 10, 50, 0.02, 0.8, None,
    212, "(c)", 13, "Klasgarten", 198,
)

lower = alt.vconcat(panel_b, panel_c, spacing=59, bounds="flush").resolve_scale(color="independent")
chart = (
    alt.vconcat(panel_a, lower, spacing=53, bounds="flush")
    .resolve_scale(color="independent")
    .properties(padding={"left": 12, "top": 4, "right": 0, "bottom": 0}, background="white")
    .configure_view(stroke=AXIS_COLOR, strokeWidth=1.2)
)

chart.save("out.html", embed_options={"renderer": "svg", "actions": False})
